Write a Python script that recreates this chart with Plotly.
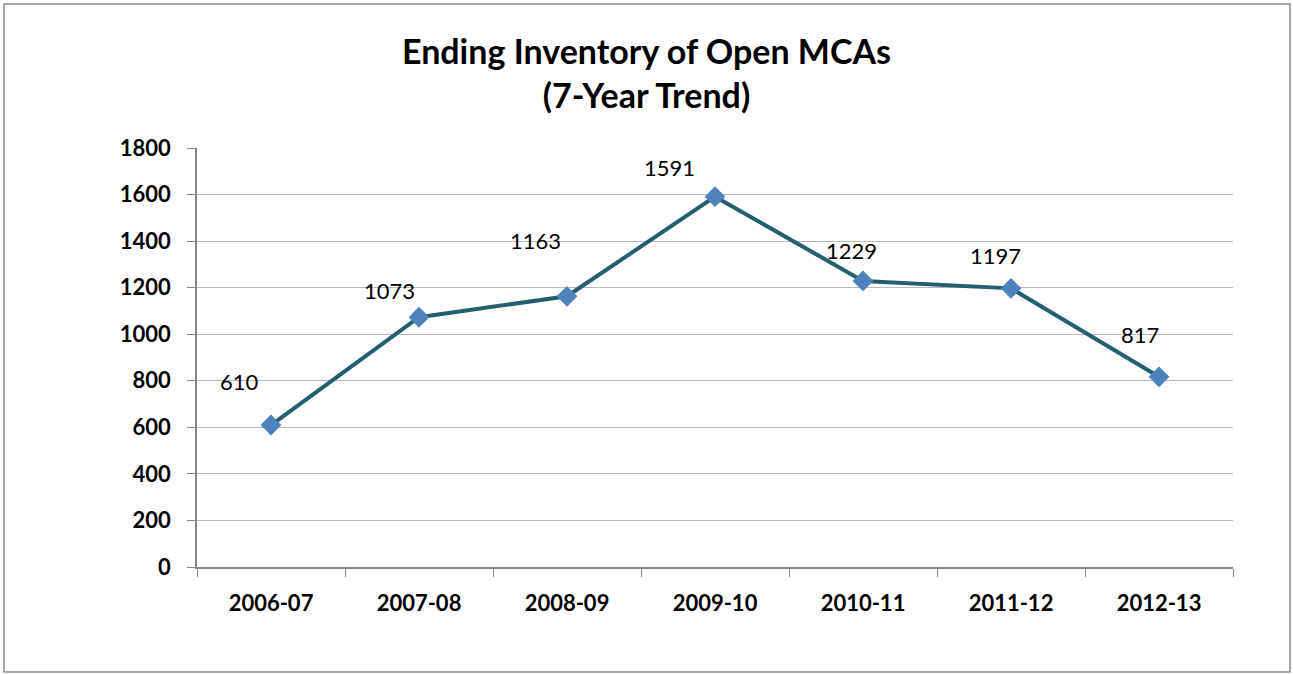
import plotly.graph_objects as go

categories = ["2006-07", "2007-08", "2008-09", "2009-10", "2010-11", "2011-12", "2012-13"]
values = [610, 1073, 1163, 1591, 1229, 1197, 817]
y_ticks = [0, 200, 400, 600, 800, 1000, 1200, 1400, 1600, 1800]

# label offsets (pixels) relative to each point
label_dx = [-32, -30, -32, -46, -12, -16, -19]
label_dy = [44, 27, 56, 29, 30, 33, 42]

FONT = "Lato"

fig = go.Figure()
fig.add_trace(go.Scatter(
    x=categories, y=values, mode="lines+markers",
    line=dict(color="#255E6E", width=4),
    marker=dict(symbol="diamond", size=16, color="#4F81BD",
                line=dict(color="#4F81BD", width=0)),
    showlegend=False, hoverinfo="x+y",
))

for c, v, dx, dy in zip(categories, values, label_dx, label_dy):
    fig.add_annotation(x=c, y=v, text=str(v), showarrow=False,
                       xshift=dx, yshift=dy,
                       font=dict(family=FONT, size=22, color="#000000"))

fig.update_layout(
    width=1293, height=675,
    margin=dict(l=197, r=60, t=148, b=108),
    paper_bgcolor="white", plot_bgcolor="white",
    font=dict(family=FONT, color="#000000"),
    title=dict(text="<b>Ending Inventory of Open MCAs<br>(7-Year Trend)</b>",
               x=0.5, xanchor="center", y=1 - 64 / 675, yanchor="middle",
               font=dict(family=FONT, size=34, color="#000000")),
    xaxis=dict(
        type="category", range=[-0.5, 6.5],
        showline=True, linecolor="#868686", linewidth=1.5,
        ticks="outside", tickson="boundaries", ticklen=8, tickcolor="#868686",
        showgrid=False,
        tickfont=dict(family=FONT, size=22, color="#000000", weight="bold"),
        ticklabelstandoff=16,
    ),
    yaxis=dict(
        range=[0, 1800], tickvals=y_ticks,
        showline=True, linecolor="#868686", linewidth=1.5,
        ticks="outside", ticklen=8, tickcolor="#868686",
        showgrid=True, gridcolor="#B8B8B8", gridwidth=1.3,
        zeroline=False,
        tickfont=dict(family=FONT, size=22, color="#000000", weight="bold"),
        ticklabelstandoff=12,
    ),
    shapes=[dict(type="rect", xref="paper", yref="paper",
                 x0=(4 - 197) / 1036, x1=(1290 - 197) / 1036,
                 y0=(567 - 672) / 419, y1=(567 - 4) / 419,
                 line=dict(color="#8C8C8C", width=1.5), fillcolor="rgba(0,0,0,0)")],
)

fig.write_html("out.html", config={"displayModeBar": False},
               post_script="document.body.style.margin='0';document.body.style.overflow='hidden';")
